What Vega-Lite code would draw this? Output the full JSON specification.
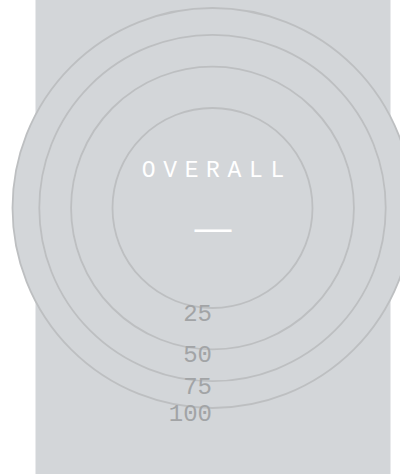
{
  "$schema": "https://vega.github.io/schema/vega-lite/v6.json",
  "width": 355,
  "height": 474,
  "autosize": {"type": "none"},
  "padding": {"left": 35.5, "top": 0, "right": 9.5, "bottom": 0},
  "background": "white",
  "config": {"view": {"stroke": null, "fill": "#d3d6d9"}},
  "datasets": {
    "rings": [{"value": 100}, {"value": 75}, {"value": 50}, {"value": 25}],
    "head": [{"label": "O\u2004V\u2004E\u2004R\u2004A\u2004L\u2004L", "score": "—"}]
  },
  "layer": [
    {
      "data": {"name": "rings"},
      "mark": {"type": "point", "shape": "circle", "filled": true, "fill": "#d3d6d9", "fillOpacity": 1, "opacity": 1, "stroke": "#bdbfc1", "strokeWidth": 1.8, "strokeOpacity": 1},
      "encoding": {
        "x": {"datum": 0, "type": "quantitative", "scale": {"domain": [-177, 178], "nice": false, "zero": false}, "axis": null},
        "y": {"datum": 0, "type": "quantitative", "scale": {"type": "sqrt", "domain": [0, 100], "range": [208, 408], "nice": false}, "axis": null},
        "size": {"field": "value", "type": "quantitative", "scale": {"type": "linear", "domain": [0, 100], "range": [0, 160000], "zero": true}, "legend": null},
        "order": {"field": "value", "sort": "descending"}
      }
    },
    {
      "data": {"name": "rings"},
      "mark": {"type": "text", "align": "right", "baseline": "alphabetic", "dy": 12.5, "dx": -0.5, "font": "Liberation Mono", "fontSize": 24, "fill": "#a2a4a6"},
      "encoding": {
        "x": {"datum": 0, "type": "quantitative"},
        "y": {"field": "value", "type": "quantitative"},
        "text": {"field": "value", "type": "nominal"}
      }
    },
    {
      "data": {"name": "head"},
      "mark": {"type": "text", "align": "center", "baseline": "alphabetic", "dy": -31, "dx": 0.5, "font": "Liberation Mono", "fontSize": 23, "fill": "white"},
      "encoding": {
        "x": {"datum": 0, "type": "quantitative"},
        "y": {"datum": 0, "type": "quantitative"},
        "text": {"field": "label", "type": "nominal"}
      }
    },
    {
      "data": {"name": "head"},
      "mark": {"type": "text", "align": "center", "baseline": "alphabetic", "dy": 32, "dx": 0.5, "font": "Liberation Sans", "fontSize": 37, "fill": "white"},
      "encoding": {
        "x": {"datum": 0, "type": "quantitative"},
        "y": {"datum": 0, "type": "quantitative"},
        "text": {"field": "score", "type": "nominal"}
      }
    }
  ]
}
